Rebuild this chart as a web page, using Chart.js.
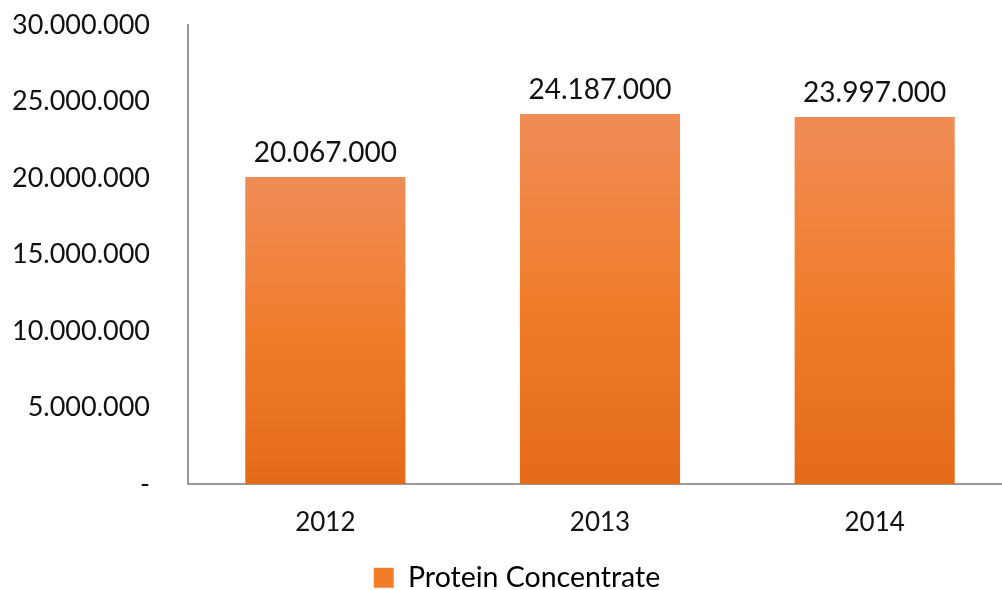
<!DOCTYPE html>
<html><head><meta charset="utf-8">
<script src="https://cdn.jsdelivr.net/npm/chart.js@4/dist/chart.umd.min.js"></script>
<style>html,body{margin:0;padding:0;background:#fff;overflow:hidden}#wrap{width:1012px;height:590px}</style>
</head><body><div id="wrap"><canvas id="c" width="1012" height="590"></canvas></div>
<script>
const categories = ['2012', '2013', '2014'];
const seriesName = 'Protein Concentrate';
const values = [20067000, 24187000, 23997000];
const yTicks = [0, 5000000, 10000000, 15000000, 20000000, 25000000, 30000000];

const FONT = 'Lato, "Open Sans", sans-serif';
const TXT = '#111';
const fmt = v => v === 0 ? '-' : v.toString().replace(/\B(?=(\d{3})+(?!\d))/g, '.');

function barFill(ctx) {
  const chart = ctx.chart;
  if (!chart.chartArea || ctx.type !== 'data') return '#F07D2A';
  const y = chart.scales.y;
  const top = y.getPixelForValue(ctx.parsed.y);
  const base = y.getPixelForValue(0);
  const g = chart.ctx.createLinearGradient(0, top, 0, base);
  g.addColorStop(0, '#F08C56');
  g.addColorStop(0.5, '#F07D2C');
  g.addColorStop(1, '#E36A19');
  return g;
}

const labelPlugin = {
  id: 'valLabels',
  afterDatasetsDraw(chart) {
    const c = chart.ctx;
    const meta = chart.getDatasetMeta(0);
    c.save();
    c.font = '28px ' + FONT;
    c.fillStyle = TXT;
    c.textAlign = 'center';
    c.textBaseline = 'bottom';
    meta.data.forEach((bar, i) => {
      c.fillText(fmt(values[i]), bar.x, bar.y - 10);
    });
    c.restore();
  }
};

new Chart(document.getElementById('c'), {
  type: 'bar',
  data: {
    labels: categories,
    datasets: [{
      label: seriesName,
      data: values,
      backgroundColor: barFill,
      borderWidth: 0,
      barPercentage: 0.583,
      categoryPercentage: 1
    }]
  },
  options: {
    responsive: false,
    animation: false,
    layout: { padding: { top: 25, left: 22, right: 0, bottom: -12 } },
    plugins: {
      legend: {
        position: 'bottom',
        labels: {
          font: { family: FONT, size: 28.5 },
          color: TXT,
          boxWidth: 20, boxHeight: 20,
          padding: 2,
          generateLabels(chart) {
            return [{ text: seriesName, fillStyle: '#F07D2A', strokeStyle: '#F07D2A', lineWidth: 0, datasetIndex: 0 }];
          }
        }
      },
      tooltip: { enabled: false }
    },
    scales: {
      x: {
        grid: { display: false, drawTicks: false },
        border: { display: true, color: '#999', width: 2 },
        ticks: { font: { family: FONT, size: 26 }, color: TXT, padding: 23 }
      },
      y: {
        min: 0, max: 30000000,
        afterBuildTicks(axis) { axis.ticks = yTicks.map(v => ({ value: v })); },
        afterFit(axis) {
          axis.width = 166; axis.paddingTop = 0; axis.paddingBottom = 0;
          axis._computeLabelArea = () => undefined;
        },
        grid: { display: false, drawTicks: false },
        border: { display: true, color: '#999', width: 2 },
        ticks: { font: { family: FONT, size: 27 }, color: TXT, padding: 38, callback: v => fmt(v) }
      }
    }
  },
  plugins: [labelPlugin]
});
</script></body></html>
